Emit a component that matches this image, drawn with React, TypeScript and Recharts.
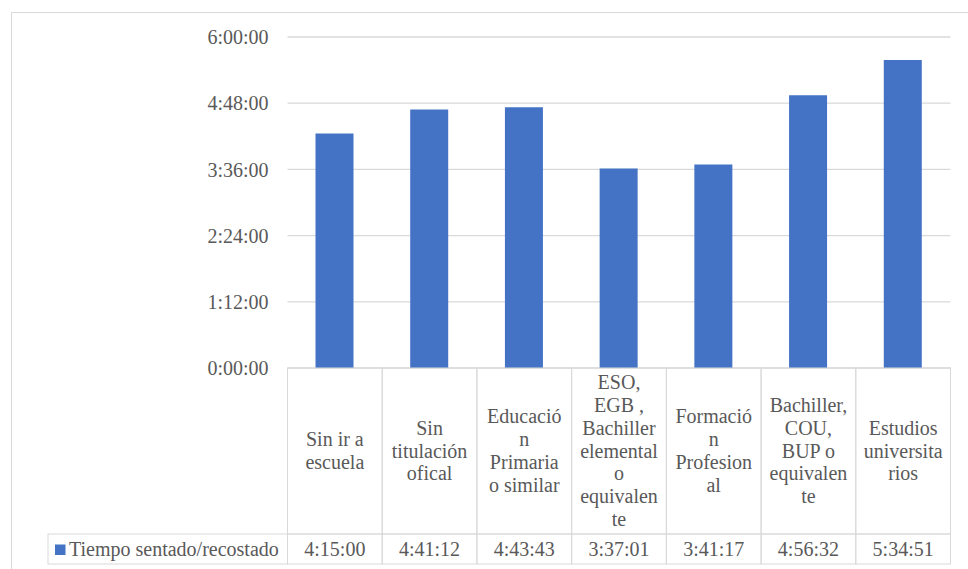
import React from 'react'
import { BarChart, Bar, XAxis, YAxis, CartesianGrid } from 'recharts'

// Nivel de estudios (etiquetas partidas en líneas como en la tabla de datos)
const categories: string[][] = [
  ['Sin ir a', 'escuela'],
  ['Sin', 'titulación', 'ofical'],
  ['Educació', 'n', 'Primaria', 'o similar'],
  ['ESO,', 'EGB ,', 'Bachiller', 'elemental', 'o', 'equivalen', 'te'],
  ['Formació', 'n', 'Profesion', 'al'],
  ['Bachiller,', 'COU,', 'BUP o', 'equivalen', 'te'],
  ['Estudios', 'universita', 'rios'],
]

// Tiempo sentado/recostado (h:mm:ss)
const sittingTime = ['4:15:00', '4:41:12', '4:43:43', '3:37:01', '3:41:17', '4:56:32', '5:34:51']

const yTicks = ['0:00:00', '1:12:00', '2:24:00', '3:36:00', '4:48:00', '6:00:00']

const seriesName = 'Tiempo sentado/recostado'

const toSeconds = (s: string) => {
  const [h, m, sec] = s.split(':').map(Number)
  return h * 3600 + m * 60 + sec
}

const toClock = (v: number) => {
  const h = Math.floor(v / 3600)
  const m = Math.floor((v % 3600) / 60)
  const s = Math.round(v % 60)
  return `${h}:${String(m).padStart(2, '0')}:${String(s).padStart(2, '0')}`
}

const data = categories.map((lines, i) => ({
  name: lines.join(' '),
  lines,
  value: toSeconds(sittingTime[i]),
}))

const W = 968
const H = 569
const PLOT_LEFT = 287.5
const PLOT_RIGHT = 950.5
const PLOT_TOP = 37
const PLOT_BOTTOM = 368
const CAT_ROW_BOTTOM = 534
const TABLE_BOTTOM = 564
const LEGEND_LEFT = 48

const FONT = "'Liberation Serif', serif"
const TEXT = '#595959'
const LINE = '#d9d9d9'
const BLUE = '#4472C4'
const FS = 20
const LH = 22.8

const textStyle = { fontFamily: FONT, fontSize: FS, fill: TEXT }

const catW = (PLOT_RIGHT - PLOT_LEFT) / categories.length

// Each x tick draws its column of the data table underneath the plot
function TableTick(props: any) {
  const { x, payload, index } = props
  const d = data[payload.index ?? index]
  const x0 = x - catW / 2
  const mid = (PLOT_BOTTOM + CAT_ROW_BOTTOM) / 2
  const n = d.lines.length
  return (
    <g>
      {index === 0 && (
        <g>
          <rect x={LEGEND_LEFT} y={CAT_ROW_BOTTOM} width={PLOT_LEFT - LEGEND_LEFT} height={TABLE_BOTTOM - CAT_ROW_BOTTOM} fill="none" stroke={LINE} />
          <rect x={55} y={544.5} width={10.5} height={10.5} fill={BLUE} />
          <text x={69} y={555.5} style={textStyle}>{seriesName}</text>
        </g>
      )}
      <rect x={x0} y={PLOT_BOTTOM} width={catW} height={CAT_ROW_BOTTOM - PLOT_BOTTOM} fill="none" stroke={LINE} />
      <rect x={x0} y={CAT_ROW_BOTTOM} width={catW} height={TABLE_BOTTOM - CAT_ROW_BOTTOM} fill="none" stroke={LINE} />
      {d.lines.map((l: string, i: number) => (
        <text key={i} x={x} y={mid + (i - (n - 1) / 2) * LH + 6.5} textAnchor="middle" style={textStyle}>
          {l}
        </text>
      ))}
      <text x={x} y={555.5} textAnchor="middle" style={textStyle}>
        {toClock(d.value)}
      </text>
    </g>
  )
}

export default function App() {
  return (
    <div style={{ position: 'absolute', left: 0, top: 0, width: W, height: H, overflow: 'hidden', background: '#fff', fontFamily: FONT }}>
      <div style={{ position: 'absolute', left: 11, top: 12, width: W, height: H, border: `1px solid ${LINE}` }} />
      <div style={{ position: 'absolute', left: 0, top: 0 }}>
        <BarChart
          width={W}
          height={H}
          data={data}
          style={{ fontFamily: FONT }}
          margin={{ top: PLOT_TOP, right: W - PLOT_RIGHT, bottom: H - TABLE_BOTTOM - 1, left: 0 }}
        >
          <CartesianGrid vertical={false} stroke={LINE} strokeWidth={1.3} />
          <YAxis
            width={PLOT_LEFT}
            domain={[0, toSeconds(yTicks[yTicks.length - 1])]}
            ticks={yTicks.map(toSeconds)}
            tickFormatter={toClock}
            axisLine={false}
            tickLine={false}
            tickSize={10}
            tickMargin={9}
            tick={{ fill: TEXT, fontSize: FS, fontFamily: FONT, style: { fontFamily: FONT } }}
          />
          <XAxis
            dataKey="name"
            height={TABLE_BOTTOM + 1 - PLOT_BOTTOM}
            axisLine={false}
            tickLine={false}
            interval={0}
            tick={<TableTick />}
          />
          <Bar dataKey="value" fill={BLUE} barSize={38} isAnimationActive={false} />
        </BarChart>
      </div>
    </div>
  )
}
